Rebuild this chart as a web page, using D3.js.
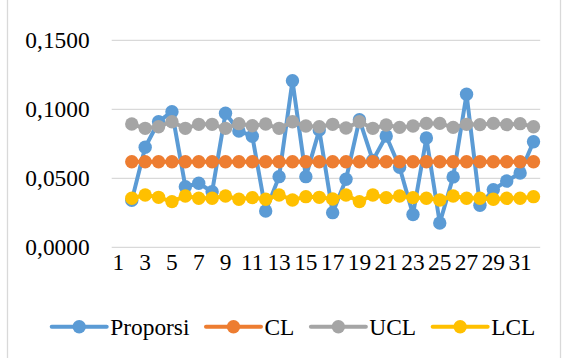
<!DOCTYPE html>
<html>
<head>
<meta charset="utf-8">
<script src="https://cdn.jsdelivr.net/npm/d3@7"></script>
<style>
  html, body { margin: 0; padding: 0; background: #fff; }
  svg { display: block; }
  text { font-family: "Liberation Serif", "Times New Roman", serif; fill: #000; }
</style>
</head>
<body>
<svg id="chart" width="566" height="358"></svg>
<script>
// Category axis (the first slot holds no observation)
const categories = [1,2,3,4,5,6,7,8,9,10,11,12,13,14,15,16,17,18,19,20,21,22,23,24,25,26,27,28,29,30,31,32];
const xTickLabels = [1,3,5,7,9,11,13,15,17,19,21,23,25,27,29,31];
const yTicks = [0, 0.05, 0.10, 0.15];

// p-chart series
const proporsi = [null,
  0.0340, 0.0725, 0.0910, 0.0983, 0.0439, 0.0464, 0.0403, 0.0971, 0.0843, 0.0805,
  0.0263, 0.0512, 0.1207, 0.0512, 0.0850, 0.0251, 0.0493, 0.0925, 0.0630, 0.0807,
  0.0580, 0.0238, 0.0792, 0.0176, 0.0510, 0.1109, 0.0305, 0.0418, 0.0480, 0.0538,
  0.0765];
const cl = [null,
  0.0620, 0.0620, 0.0620, 0.0620, 0.0620, 0.0620, 0.0620, 0.0620, 0.0620, 0.0620,
  0.0620, 0.0620, 0.0620, 0.0620, 0.0620, 0.0620, 0.0620, 0.0620, 0.0620, 0.0620,
  0.0620, 0.0620, 0.0620, 0.0620, 0.0620, 0.0620, 0.0620, 0.0620, 0.0620, 0.0620,
  0.0620];
const ucl = [null,
  0.0893, 0.0862, 0.0874, 0.0910, 0.0862, 0.0891, 0.0891, 0.0862, 0.0896, 0.0881,
  0.0893, 0.0862, 0.0910, 0.0879, 0.0874, 0.0891, 0.0864, 0.0910, 0.0862, 0.0886,
  0.0869, 0.0879, 0.0898, 0.0898, 0.0869, 0.0891, 0.0889, 0.0898, 0.0889, 0.0896,
  0.0874];
const lcl = [null,
  0.0355, 0.0379, 0.0362, 0.0331, 0.0372, 0.0355, 0.0355, 0.0372, 0.0348, 0.0360,
  0.0348, 0.0379, 0.0343, 0.0367, 0.0362, 0.0350, 0.0379, 0.0331, 0.0379, 0.0360,
  0.0372, 0.0360, 0.0355, 0.0343, 0.0372, 0.0355, 0.0355, 0.0348, 0.0355, 0.0355,
  0.0367];

const seriesNames = ["Proporsi", "CL", "UCL", "LCL"];
const seriesColors = ["#5B9BD5", "#ED7D31", "#A5A5A5", "#FFC000"];
const seriesValues = [proporsi, cl, ucl, lcl];

const svg = d3.select("#chart");
const fontSize = 23.4;

// chart frame
svg.append("rect")
  .attr("x", 7.5).attr("y", -5)
  .attr("width", 553).attr("height", 370)
  .attr("fill", "#fff").attr("stroke", "#D9D9D9").attr("stroke-width", 1.3);

const plot = { left: 111.7, right: 540.2, top: 40.3, bottom: 247.3 };

const x = d3.scaleBand().domain(categories).range([plot.left, plot.right]).padding(0);
const y = d3.scaleLinear().domain([0, 0.15]).range([plot.bottom, plot.top]);

// horizontal gridlines
svg.append("g").selectAll("line").data(yTicks).join("line")
  .attr("x1", plot.left).attr("x2", plot.right)
  .attr("y1", d => y(d)).attr("y2", d => y(d))
  .attr("stroke", "#D9D9D9").attr("stroke-width", 1.3);

const fmt = d => d3.format(".4f")(d).replace(".", ",");

// value axis
const yAxis = svg.append("g")
  .attr("transform", `translate(${plot.left},0)`)
  .call(d3.axisLeft(y).tickValues(yTicks).tickFormat(fmt).tickSize(0).tickPadding(22));
yAxis.select(".domain").remove();
yAxis.selectAll("text").attr("font-size", fontSize)
  .attr("font-family", "'Liberation Serif', 'Times New Roman', serif").attr("fill", "#000");

// category axis
const xAxis = svg.append("g")
  .attr("transform", `translate(0,${plot.bottom})`)
  .call(d3.axisBottom(x).tickValues(xTickLabels).tickSize(0).tickPadding(6));
xAxis.select(".domain").remove();
xAxis.selectAll("text").attr("font-size", fontSize)
  .attr("font-family", "'Liberation Serif', 'Times New Roman', serif").attr("fill", "#000");

const cx = c => x(c) + x.bandwidth() / 2;
const markerR = 6.7;

// series: line first, then markers, drawn in legend order
seriesValues.forEach((vals, si) => {
  const pts = categories.map((c, i) => ({ c, v: vals[i] })).filter(d => d.v != null);
  const line = d3.line().x(d => cx(d.c)).y(d => y(d.v));
  const g = svg.append("g");
  g.append("path").datum(pts)
    .attr("d", line)
    .attr("fill", "none")
    .attr("stroke", seriesColors[si])
    .attr("stroke-width", 4)
    .attr("stroke-linejoin", "round")
    .attr("stroke-linecap", "round");
  g.selectAll("circle").data(pts).join("circle")
    .attr("cx", d => cx(d.c)).attr("cy", d => y(d.v))
    .attr("r", markerR)
    .attr("fill", seriesColors[si]);
});

// legend
const legend = svg.append("g");
const legendY = 326.7;
let lx = 51.7;
seriesNames.forEach((name, i) => {
  const item = legend.append("g");
  item.append("line")
    .attr("x1", lx).attr("x2", lx + 55)
    .attr("y1", legendY).attr("y2", legendY)
    .attr("stroke", seriesColors[i]).attr("stroke-width", 4)
    .attr("stroke-linecap", "round");
  item.append("circle")
    .attr("cx", lx + 27.5).attr("cy", legendY).attr("r", markerR)
    .attr("fill", seriesColors[i]);
  const t = item.append("text")
    .attr("x", lx + 58.5).attr("y", 335)
    .attr("font-size", fontSize)
    .text(name);
  lx += 58.5 + t.node().getComputedTextLength() + 16.5;
});
</script>
</body>
</html>
